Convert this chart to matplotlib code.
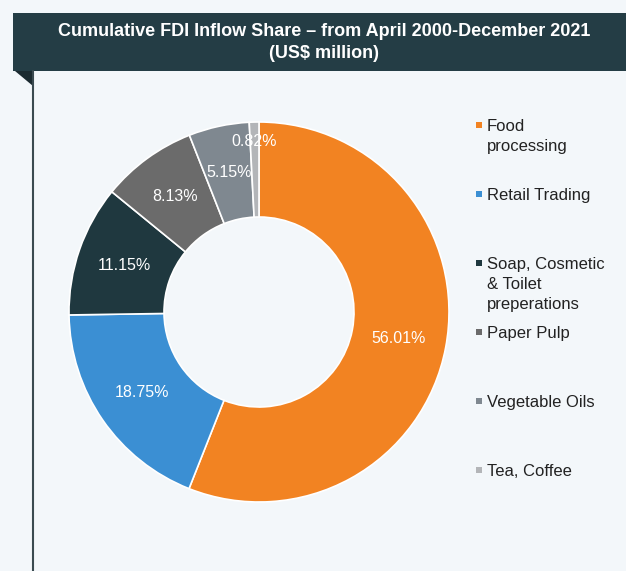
import matplotlib.pyplot as plt
from matplotlib.patches import Rectangle, Polygon

categories = ['Food\nprocessing', 'Retail Trading', 'Soap, Cosmetic\n& Toilet\npreperations',
              'Paper Pulp', 'Vegetable Oils', 'Tea, Coffee']
shares = [56.01, 18.75, 11.15, 8.13, 5.15, 0.82]
labels = ['56.01%', '18.75%', '11.15%', '8.13%', '5.15%', '0.82%']
colors = ['#f28322', '#3b8fd3', '#1f383f', '#6b6b6b', '#7f8890', '#b3b5b8']

W, H = 626, 571
bg = '#f3f7fa'
banner = '#243d45'

fig = plt.figure(figsize=(W / 100, H / 100), dpi=100)
fig.patch.set_facecolor(bg)

# title banner and left rule
fig.patches.append(Rectangle((13 / W, 1 - 71 / H), 613 / W, 58 / H, transform=fig.transFigure,
                             facecolor=banner, edgecolor='none'))
fig.patches.append(Polygon([(15 / W, 1 - 71 / H), (33 / W, 1 - 71 / H), (33 / W, 1 - 86 / H)],
                           transform=fig.transFigure, facecolor='#1b2a30', edgecolor='none'))
fig.lines.append(plt.Line2D([33 / W, 33 / W], [0, 1 - 71 / H], transform=fig.transFigure,
                            color='#3a4a50', lw=1.5))
fig.text(324 / W, 1 - 32 / H, 'Cumulative FDI Inflow Share \u2013 from April 2000-December 2021',
         color='white', fontsize=13, fontweight='bold', ha='center', va='center',
         family='Liberation Sans')
fig.text(324 / W, 1 - 54 / H, '(US$ million)', color='white', fontsize=13, fontweight='bold',
         ha='center', va='center', family='Liberation Sans')

# donut
R = 190
cx, cy = 259, 312
ax = fig.add_axes([(cx - R) / W, 1 - (cy + R) / H, 2 * R / W, 2 * R / H])
ax.set_facecolor(bg)
wedges, texts = ax.pie(shares, colors=colors, startangle=90, counterclock=False,
                       radius=1.0, wedgeprops=dict(width=0.5, edgecolor='white', linewidth=1.2),
                       labels=labels, labeldistance=0.75,
                       textprops=dict(color='white', fontsize=11.5, family='Liberation Sans'))
for t in texts:
    t.set_ha('center')
    t.set_va('center')
# the tiny slice label sits further out, as in the source
x, y = texts[-1].get_position()
texts[-1].set_position((x * 1.2, y * 1.2))
ax.set_xlim(-1, 1)
ax.set_ylim(-1, 1)
ax.set_aspect('equal')
ax.axis('off')

# legend
ytop = 125
for i, (lab, c) in enumerate(zip(categories, colors)):
    y = ytop + i * 69
    fig.patches.append(Rectangle((476 / W, 1 - (y + 3) / H), 6 / W, 6 / H,
                                 transform=fig.transFigure, facecolor=c, edgecolor='none'))
    fig.text(487 / W, 1 - (y - 6) / H, lab, fontsize=12, color='#222222', ha='left', va='top',
             family='Liberation Sans', linespacing=1.4)

fig.savefig('out.png', dpi=100, facecolor=bg)
